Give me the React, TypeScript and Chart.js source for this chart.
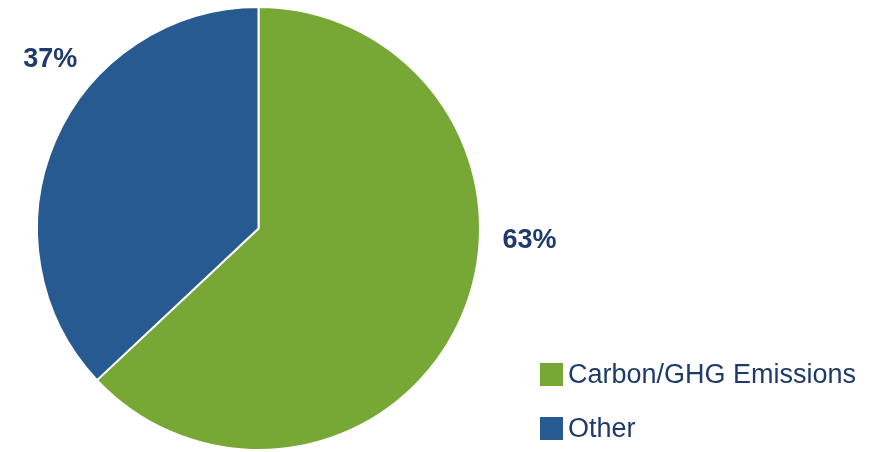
import React, { useEffect, useRef } from "react";
import { Chart, registerables } from "chart.js";

Chart.register(...registerables);

const categories = ["Carbon/GHG Emissions", "Other"];
const shares = [63, 37];
const sliceColors = ["#77a836", "#275a91"];
// label anchor (angle in degrees clockwise from top, distance as fraction of radius)
const labelAngles = [92.5, 309];
const labelDist = [1.225, 1.21];

const TEXT_COLOR = "#1f3b6c";
const FONT = "'Liberation Sans', Arial, sans-serif";

const overlayPlugin = {
  id: "overlay",
  afterDraw(chart: any) {
    const ctx = chart.ctx as CanvasRenderingContext2D;
    const meta = chart.getDatasetMeta(0);
    const arc0 = meta.data[0] as any;
    if (!arc0) return;
    const cx = arc0.x;
    const cy = arc0.y;
    const r = arc0.outerRadius;
    ctx.save();
    // percentage labels
    ctx.font = `bold 27px ${FONT}`;
    ctx.fillStyle = TEXT_COLOR;
    ctx.textAlign = "center";
    ctx.textBaseline = "middle";
    shares.forEach((v, i) => {
      const a = (labelAngles[i] * Math.PI) / 180;
      const x = cx + Math.sin(a) * r * labelDist[i];
      const y = cy - Math.cos(a) * r * labelDist[i];
      ctx.fillText(`${v}%`, x, y);
    });
    // legend
    const lx = 540;
    const ly0 = 363;
    const box = 23;
    const gap = 54;
    ctx.font = `27px ${FONT}`;
    ctx.textAlign = "left";
    categories.forEach((c, i) => {
      const y = ly0 + i * gap;
      ctx.fillStyle = sliceColors[i];
      ctx.fillRect(lx, y, box, box);
      ctx.fillStyle = TEXT_COLOR;
      ctx.fillText(c, lx + box + 5, y + box / 2 + 1);
    });
    ctx.restore();
  },
};

export default function App() {
  const ref = useRef<HTMLCanvasElement | null>(null);
  useEffect(() => {
    if (!ref.current) return;
    const chart = new Chart(ref.current, {
      type: "pie",
      data: {
        labels: categories,
        datasets: [
          {
            data: shares,
            backgroundColor: sliceColors,
            borderColor: "#ffffff",
            borderWidth: 2,
          },
        ],
      },
      options: {
        responsive: false,
        animation: false,
        layout: { padding: { left: 36, right: 396, top: 6, bottom: 1 } },
        plugins: {
          legend: { display: false },
          tooltip: { enabled: false },
        },
      },
      plugins: [overlayPlugin],
    });
    return () => chart.destroy();
  }, []);
  return (
    <div style={{ position: "fixed", left: 0, top: 0, width: 877, height: 452, background: "#fff" }}>
      <canvas ref={ref} width={877} height={452} style={{ width: 877, height: 452 }} />
    </div>
  );
}
